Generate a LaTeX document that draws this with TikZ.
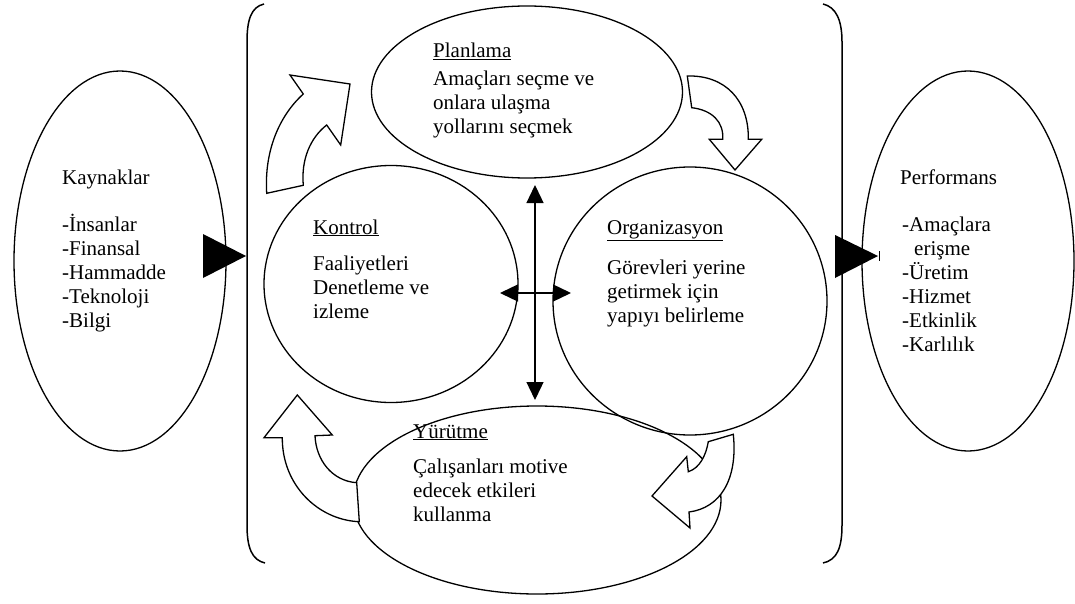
\documentclass[tikz,border=0pt]{standalone}
\usepackage{fontspec}
\setmainfont{Liberation Serif}
\usetikzlibrary{shapes.geometric,arrows.meta}

\tikzset{
  oval/.style={ellipse, draw, line width=1.3pt, inner sep=0pt},
  lbl/.style={anchor=base west, inner sep=0pt, font=\fontsize{21}{24}\selectfont},
  blockarrow/.style={draw, fill=white, line width=1.3pt, line join=miter},
  dblarrow/.style={line width=1.3pt, {Triangle[length=18pt,width=17pt]}-{Triangle[length=18pt,width=17pt]}},
  bracket/.style={draw, line width=1.5pt},
  pointer/.style={fill=black}
}

\begin{document}
\begin{tikzpicture}[x=1pt,y=-1pt]
\useasboundingbox (0,0) rectangle (1075,604);

% enclosing brackets
\draw[bracket] (264,4) .. controls (251,7) and (247,20) .. (247,42)
  -- (247,525) .. controls (247,548) and (252,560) .. (265,563);
\draw[bracket] (823,4) .. controls (836,7) and (842,20) .. (842,42)
  -- (842,525) .. controls (842,548) and (837,560) .. (823,563);

% inputs, outputs and the four functions
\node[oval, minimum width=212pt, minimum height=380pt] (res) at (120,261) {};
\node[oval, minimum width=212pt, minimum height=380pt] (perf) at (968,261) {};
\node[oval, minimum width=311pt, minimum height=172pt] (plan) at (527,92) {};
\node[oval, minimum width=254pt, minimum height=237pt] (kont) at (391,284) {};
\node[oval, minimum width=274pt, minimum height=268pt] (org) at (690,301) {};
\node[oval, minimum width=368pt, minimum height=188pt] (yur) at (537,500) {};

% curved block arrows of the cycle
\path[blockarrow] (266.7,193.3) -- (303.3,185.3)
  .. controls (301,160) and (310,138) .. (326.7,125)
  -- (340.7,145) -- (350,84) -- (290,75) -- (303.3,94)
  .. controls (280,115) and (264,150) .. cycle;
\path[blockarrow] (687.3,76) -- (691.7,107.7)
  .. controls (712,110) and (724,122) .. (722.7,139.3)
  -- (709.3,139.3) -- (735,170) -- (761.7,139.3) -- (748.3,139.3)
  .. controls (749,100) and (725,75) .. cycle;
\path[blockarrow] (297.3,395) -- (332.3,435) -- (315,435.7)
  .. controls (316,460) and (332,481) .. (356.7,482.7)
  -- (359.3,521.7)
  .. controls (318,520) and (282,485) .. (282.3,437.7)
  -- (264,437.7) -- cycle;
\path[blockarrow] (708.3,441.7) -- (733.3,434.3)
  .. controls (738,480) and (720,508) .. (689,512)
  -- (690,528) -- (652,496) -- (686.7,456.7) -- (688.3,471.7)
  .. controls (700,468) and (706,455) .. cycle;

% black pointers into and out of the process
\fill[pointer] (203,234) -- (246,256) -- (203,278) -- cycle;
\fill[pointer] (835,235) -- (878,256) -- (835,278) -- cycle;
\draw[line width=0.8pt] (879,251) -- (879,261);

% cross of double arrows between the functions
\coordinate (vtop) at (535,185);
\coordinate (vbot) at (535,400);
\coordinate (hl) at (500,293);
\coordinate (hr) at (571,293);
\draw[dblarrow] (vtop) -- (vbot);
\draw[dblarrow] (hl) -- (hr);

% resources
\node[lbl] (r0) at (62,184) {Kaynaklar};
\node[lbl] (r1) at (62,231) {-İnsanlar};
\node[lbl] (r2) at (62,255) {-Finansal};
\node[lbl] (r3) at (62,279) {-Hammadde};
\node[lbl] (r4) at (62,303) {-Teknoloji};
\node[lbl] (r5) at (62,327) {-Bilgi};

% planning
\node[lbl] (p0) at (433,58) {\underline{Planlama}};
\node[lbl] (p1) at (433,86) {Amaçları seçme ve};
\node[lbl] (p2) at (433,110) {onlara ulaşma};
\node[lbl] (p3) at (433,134) {yollarını seçmek};

% control
\node[lbl] (k0) at (313,234) {\underline{Kontrol}};
\node[lbl] (k1) at (313,270) {Faaliyetleri};
\node[lbl] (k2) at (313,294) {Denetleme ve};
\node[lbl] (k3) at (313,318) {izleme};

% organising
\node[lbl] (o0) at (607,234) {\underline{Organizasyon}};
\node[lbl] (o1) at (607,274) {Görevleri yerine};
\node[lbl] (o2) at (607,298) {getirmek için};
\node[lbl] (o3) at (607,322) {yapıyı belirleme};

% leading
\node[lbl] (y0) at (413,438) {\underline{Yürütme}};
\node[lbl] (y1) at (413,473) {Çalışanları motive};
\node[lbl] (y2) at (413,497) {edecek etkileri};
\node[lbl] (y3) at (413,521) {kullanma};

% performance
\node[lbl] (f0) at (900,184) {Performans};
\node[lbl] (f1) at (902,231) {-Amaçlara};
\node[lbl] (f2) at (914,255) {erişme};
\node[lbl] (f3) at (902,279) {-Üretim};
\node[lbl] (f4) at (902,303) {-Hizmet};
\node[lbl] (f5) at (902,327) {-Etkinlik};
\node[lbl] (f6) at (902,351) {-Karlılık};
\end{tikzpicture}
\end{document}
